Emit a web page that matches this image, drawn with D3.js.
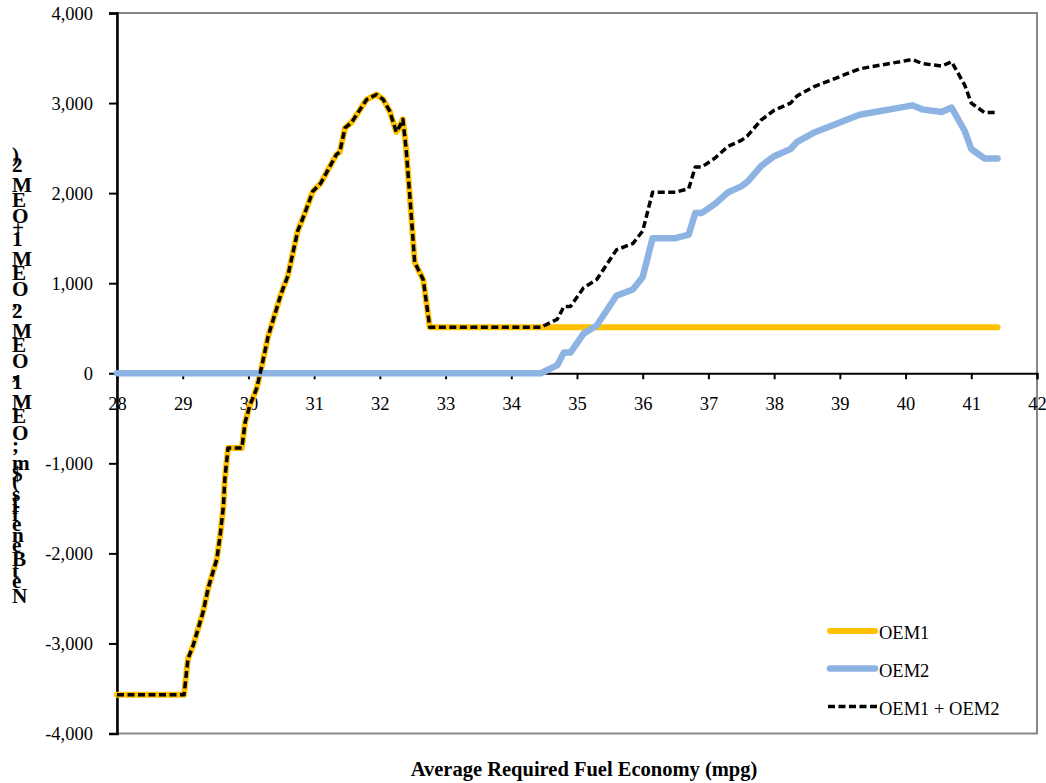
<!DOCTYPE html>
<html>
<head>
<meta charset="utf-8">
<script src="https://cdn.jsdelivr.net/npm/d3@7"></script>
<style>
  html, body { margin: 0; padding: 0; background: #fff; }
  svg { display: block; }
  text { font-family: "Liberation Serif", "Times New Roman", serif; fill: #000; }
</style>
</head>
<body>
<svg id="chart" width="1046" height="783"></svg>
<script>
// Average required fuel economy (mpg) at which each value is read
const mpg = [28.0, 29.02, 29.08, 29.16, 29.31, 29.39, 29.52, 29.57, 29.62, 29.64,
  29.69, 29.9, 29.95, 30.02, 30.12, 30.18, 30.3, 30.5, 30.6, 30.75,
  30.85, 30.98, 31.1, 31.34, 31.39, 31.47, 31.57, 31.8, 31.95, 32.05,
  32.15, 32.25, 32.3, 32.35, 32.4, 32.46, 32.53, 32.66, 32.76, 34.45,
  34.7, 34.8, 34.9, 35.1, 35.3, 35.6, 35.85, 36.0, 36.15, 36.5,
  36.7, 36.8, 36.9, 37.1, 37.3, 37.5, 37.6, 37.8, 38.0, 38.25,
  38.35, 38.6, 39.3, 40.0, 40.1, 40.25, 40.55, 40.7, 40.9, 41.0,
  41.2, 41.4];

// Net benefits for OEM1 ($m)
const oem1 = [-3570, -3570, -3170, -3020, -2650, -2380, -2060, -1800, -1470, -1180,
  -830, -830, -545, -360, -180, 0, 410, 890, 1080, 1580,
  1760, 2020, 2110, 2430, 2455, 2725, 2785, 3040, 3095, 3040,
  2910, 2680, 2740, 2820, 2490, 1930, 1230, 1040, 510, 510,
  510, 510, 510, 510, 510, 510, 510, 510, 510, 510,
  510, 510, 510, 510, 510, 510, 510, 510, 510, 510,
  510, 510, 510, 510, 510, 510, 510, 510, 510, 510,
  510, 510];

// Net benefits for OEM2 ($m)
const oem2 = [0, 0, 0, 0, 0, 0, 0, 0, 0, 0,
  0, 0, 0, 0, 0, 0, 0, 0, 0, 0,
  0, 0, 0, 0, 0, 0, 0, 0, 0, 0,
  0, 0, 0, 0, 0, 0, 0, 0, 0, 0,
  90, 230, 230, 440, 530, 860, 930, 1070, 1500, 1500,
  1540, 1780, 1780, 1880, 2010, 2075, 2130, 2300, 2410, 2490,
  2570, 2670, 2870, 2960, 2975, 2930, 2900, 2950, 2690, 2490,
  2385, 2385];

const xTicks = [28, 29, 30, 31, 32, 33, 34, 35, 36, 37, 38, 39, 40, 41, 42];
const yTicks = [-4000, -3000, -2000, -1000, 0, 1000, 2000, 3000, 4000];
const seriesNames = ["OEM1", "OEM2", "OEM1 + OEM2"];
const xTitle = "Average Required Fuel Economy (mpg)";
const yTitle = "Net Benefits ($m; OEM1, OEM2, OEM1+OEM2)";

// Combined series: sum of the two OEMs at each point
const combined = oem1.map((v, i) => v + oem2[i]);

const svg = d3.select("#chart");
const plot = { left: 117, right: 1037, top: 13, bottom: 733.5 };

const x = d3.scaleLinear().domain([28, 42]).range([plot.left, plot.right]);
const y = d3.scaleLinear().domain([-4000, 4000]).range([plot.bottom, plot.top]);

// Plot-area frame (grey)
svg.append("rect")
  .attr("x", plot.left).attr("y", plot.top)
  .attr("width", plot.right - plot.left).attr("height", plot.bottom - plot.top)
  .attr("fill", "none").attr("stroke", "#868686").attr("stroke-width", 2);

// Thousands separator with an ASCII hyphen for negatives
const fmt = d3.formatLocale({ decimal: ".", thousands: ",", grouping: [3], currency: ["$", ""], minus: "-" }).format(",");

// Y axis
const yAxis = svg.append("g")
  .attr("transform", `translate(${plot.left},0)`)
  .call(d3.axisLeft(y).tickValues(yTicks).tickFormat(fmt).tickSize(8).tickPadding(16));
yAxis.select(".domain").attr("stroke", "#000").attr("stroke-width", 2.5);
yAxis.selectAll(".tick line").attr("stroke", "#000").attr("stroke-width", 2);
yAxis.selectAll(".tick text")
  .attr("font-family", "Liberation Serif, Times New Roman, serif")
  .attr("font-size", 18.5)
  .attr("dy", "0.33em");

// X axis crossing at zero
const xAxis = svg.append("g")
  .attr("transform", `translate(0,${y(0)})`)
  .call(d3.axisBottom(x).tickValues(xTicks).tickFormat(d3.format("d")).tickSize(6).tickPadding(19));
xAxis.select(".domain").attr("stroke", "#000").attr("stroke-width", 2.2);
xAxis.selectAll(".tick line").attr("stroke", "#000").attr("stroke-width", 2);
xAxis.selectAll(".tick text")
  .attr("font-family", "Liberation Serif, Times New Roman, serif")
  .attr("font-size", 18.5)
  .attr("dy", "0.71em")
  .attr("y", 24);

// Series lines
const line = d3.line().x((d, i) => x(mpg[i])).y(d => y(d));

svg.append("path").datum(oem1)
  .attr("d", line)
  .attr("fill", "none").attr("stroke", "#FFC000").attr("stroke-width", 6)
  .attr("stroke-linejoin", "round").attr("stroke-linecap", "round");

svg.append("path").datum(oem2)
  .attr("d", line)
  .attr("fill", "none").attr("stroke", "#8DB3E2").attr("stroke-width", 6.5)
  .attr("stroke-linejoin", "round").attr("stroke-linecap", "round");

svg.append("path").datum(combined)
  .attr("d", line)
  .attr("fill", "none").attr("stroke", "#000").attr("stroke-width", 3.5)
  .attr("stroke-dasharray", "7,3.5")
  .attr("stroke-linejoin", "round");

// Legend
const legendStyles = [
  { color: "#FFC000", width: 6, dash: null },
  { color: "#8DB3E2", width: 6.5, dash: null },
  { color: "#000", width: 3.5, dash: "7,3.5" }
];
const legendY = [631, 668.5, 706.5];
const legend = svg.append("g");
seriesNames.forEach((name, i) => {
  const st = legendStyles[i];
  legend.append("line")
    .attr("x1", st.dash ? 828 : 830).attr("x2", st.dash ? 877 : 875)
    .attr("y1", legendY[i]).attr("y2", legendY[i])
    .attr("stroke", st.color).attr("stroke-width", st.width)
    .attr("stroke-linecap", st.dash ? "butt" : "round")
    .attr("stroke-dasharray", st.dash);
  legend.append("text")
    .attr("x", 879).attr("y", legendY[i] + 8)
    .attr("font-size", 18.5)
    .text(name);
});

// Axis titles
svg.append("text")
  .attr("x", 584).attr("y", 776)
  .attr("text-anchor", "middle")
  .attr("font-size", 20.5)
  .attr("font-weight", "bold")
  .text(xTitle);

// Y title: upright glyphs stacked bottom-to-top
svg.append("text")
  .attr("transform", "translate(12,603) rotate(-90)")
  .attr("rotate", "90")
  .attr("font-size", 21.2)
  .attr("font-weight", "bold")
  .text(yTitle);
</script>
</body>
</html>
